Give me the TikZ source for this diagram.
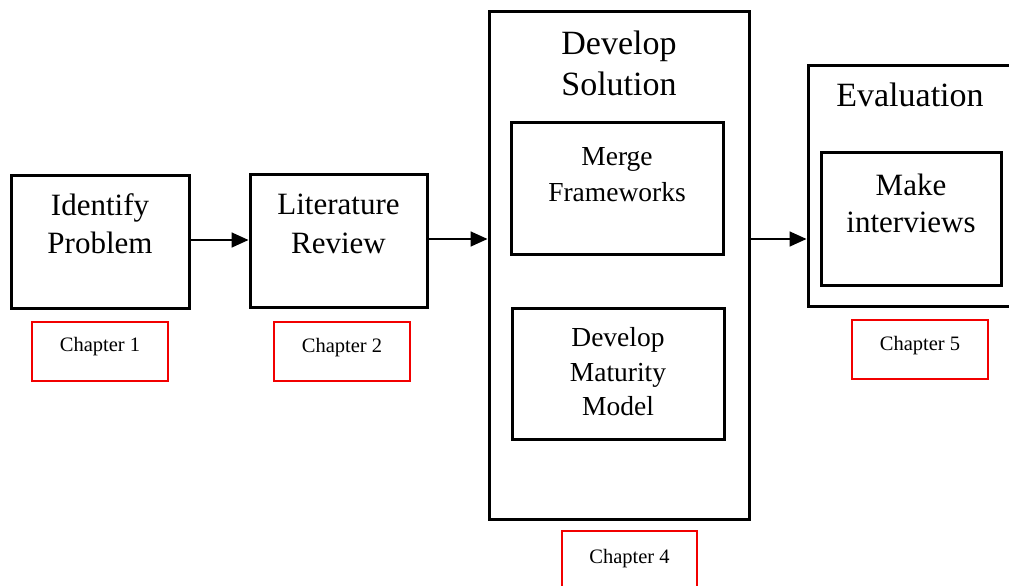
\documentclass[tikz,border=0pt]{standalone}
\usepackage{fontspec}
\setmainfont{Liberation Serif}
\usetikzlibrary{arrows.meta,calc}

\tikzset{
  stage/.style={draw=black, line width=3pt, fill=white, inner sep=0pt},
  chapbox/.style={draw=red!95!black, line width=2.7pt, inner sep=0pt},
  bigtxt/.style={font=\fontsize{34}{40}\selectfont, anchor=base, inner sep=0pt},
  midtxt/.style={font=\fontsize{31}{38}\selectfont, anchor=base, inner sep=0pt},
  smalltxt/.style={font=\fontsize{27.5}{34}\selectfont, anchor=base, inner sep=0pt},
  chaptxt/.style={font=\fontsize{20.5}{24}\selectfont, anchor=base, inner sep=0pt},
  flow/.style={line width=1.7pt, -{Triangle[length=17pt,width=15pt]}},
}

% box spanning two corners given in page units (x right, y down)
\newcommand{\boxat}[6][stage]{%
  \node[#1, minimum width=#4-#2, minimum height=#5-#3] (#6) at ({(#2+#4)/2},{(#3+#5)/2}) {};}

\begin{document}
\begin{tikzpicture}[x=1pt, y=-1pt]
  \useasboundingbox (0,0) rectangle (1009,586);
  \clip (0,0) rectangle (1009,586);

  % stage boxes
  \boxat{11}{175}{189}{308}{ident}
  \boxat{250}{174}{427}{307}{lit}
  \boxat{489}{12}{749}{519}{devsol}
  \boxat{511}{122}{723}{254}{merge}
  \boxat{512}{308}{724}{439}{matur}
  \boxat{808}{66}{1012}{306}{eval}
  \boxat{821}{152}{1001}{285}{interv}

  % chapter tags
  \boxat[chapbox]{32}{322}{168}{381}{ch1}
  \boxat[chapbox]{274}{322}{410}{381}{ch2}
  \boxat[chapbox]{562}{531}{697}{600}{ch4}
  \boxat[chapbox]{852}{320}{988}{379}{ch5}

  % box texts
  \node[midtxt] (identA) at ($(ident.north)+(0,42)$) {Identify};
  \node[midtxt] (identB) at ($(ident.north)+(0,80)$) {Problem};
  \node[midtxt] (litA) at ($(lit.north)+(0,42)$) {Literature};
  \node[midtxt] (litB) at ($(lit.north)+(0,81)$) {Review};
  \node[bigtxt] (devA) at ($(devsol.north)+(0,44)$) {Develop};
  \node[bigtxt] (devB) at ($(devsol.north)+(0,85)$) {Solution};
  \node[smalltxt] (mergeA) at ($(merge.north)+(0,45)$) {Merge};
  \node[smalltxt] (mergeB) at ($(merge.north)+(0,81)$) {Frameworks};
  \node[smalltxt] (maturA) at ($(matur.north)+(0,40)$) {Develop};
  \node[smalltxt] (maturB) at ($(matur.north)+(0,75)$) {Maturity};
  \node[smalltxt] (maturC) at ($(matur.north)+(0,109)$) {Model};
  \node[bigtxt] (evalA) at ($(eval.north)+(0,42)$) {Evaluation};
  \node[midtxt] (intervA) at ($(interv.north)+(0,45)$) {Make};
  \node[midtxt] (intervB) at ($(interv.north)+(0,82)$) {interviews};

  % chapter texts
  \node[chaptxt] (ch1t) at ($(ch1.north)+(0,31)$) {Chapter 1};
  \node[chaptxt] (ch2t) at ($(ch2.north)+(0,32)$) {Chapter 2};
  \node[chaptxt] (ch4t) at ($(ch4.north)+(0,34)$) {Chapter 4};
  \node[chaptxt] (ch5t) at ($(ch5.north)+(0,32)$) {Chapter 5};

  % flow arrows
  \draw[flow] (ident.east |- 0,240) -- (lit.west |- 0,240);
  \draw[flow] (lit.east |- 0,239) -- (devsol.west |- 0,239);
  \draw[flow] (devsol.east |- 0,239) -- (eval.west |- 0,239);
\end{tikzpicture}
\end{document}
